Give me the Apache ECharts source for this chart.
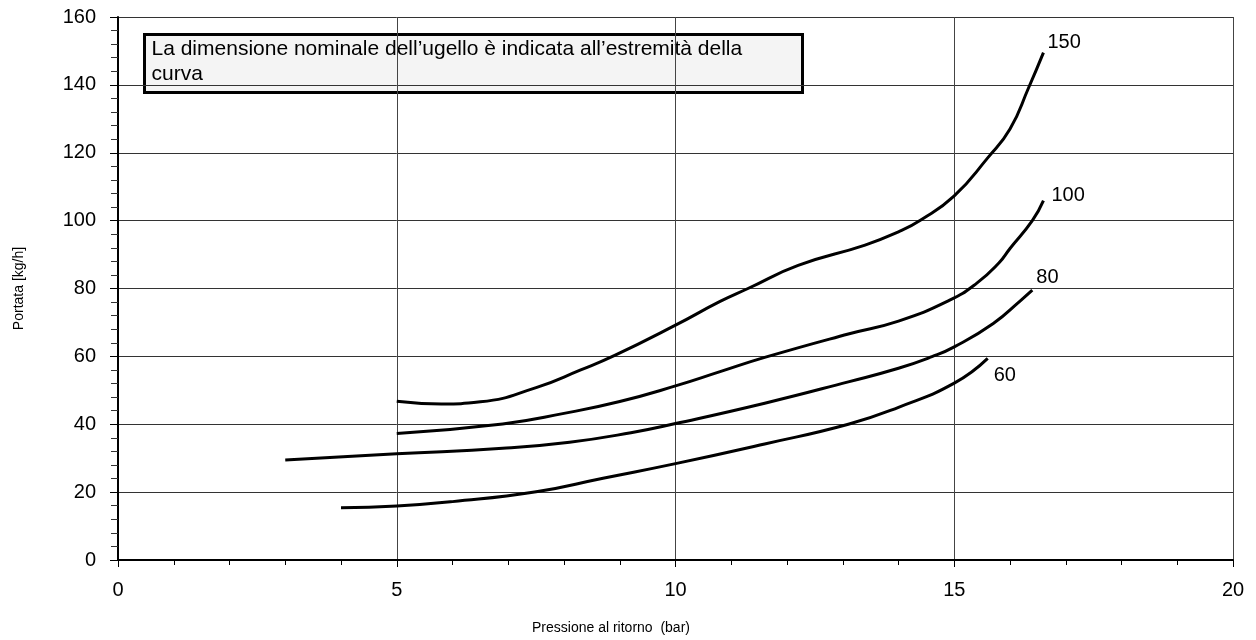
<!DOCTYPE html>
<html>
<head>
<meta charset="utf-8">
<script src="https://cdn.jsdelivr.net/npm/echarts@6/dist/echarts.min.js"></script>
<style>
html,body{margin:0;padding:0;background:#fff;}
#chart{width:1256px;height:640px;}
</style>
</head>
<body>
<div id="chart"></div>
<script>
// Data
const xTicks = [0, 5, 10, 15, 20];
const yTicks = [0, 20, 40, 60, 80, 100, 120, 140, 160];

const p150 = [5.0, 5.8, 6.5, 7.5, 8.3, 8.9, 10.0, 10.8, 11.3, 12.2, 13.4, 14.0, 14.4, 15.0, 15.6, 16.0, 16.33, 16.6];
const q150 = [46.8, 46.0, 46.6, 50.8, 56.0, 60.2, 69.2, 76.2, 80.0, 86.8, 92.8, 96.7, 100.2, 107.3, 118.5, 127.0, 139.0, 149.5];

const p100 = [5.0, 6.9, 8.0, 9.0, 10.0, 10.8, 11.6, 13.1, 14.0, 14.9, 15.4, 15.8, 16.0, 16.4, 16.6];
const q100 = [37.3, 40.1, 43.2, 46.7, 51.3, 55.5, 59.7, 66.6, 70.4, 76.4, 81.5, 87.5, 91.8, 100.0, 105.9];

const p80 = [3.0, 5.0, 6.9, 8.1, 9.2, 10.0, 11.6, 13.1, 14.0, 14.6, 15.0, 15.7, 16.2, 16.4];
const q80 = [29.5, 31.3, 32.9, 34.7, 37.5, 40.2, 46.2, 52.5, 56.5, 59.9, 62.8, 69.7, 76.6, 79.5];

const p60 = [4.0, 5.0, 6.0, 7.5, 8.7, 10.0, 11.6, 13.1, 14.0, 15.0, 15.6];
const q60 = [15.4, 15.9, 17.2, 20.1, 24.1, 28.4, 34.2, 40.0, 45.0, 52.1, 59.4];

const curveNames = ['150', '100', '80', '60'];
const noteText = 'La dimensione nominale dell\u2019ugello è indicata all\u2019estremità della\ncurva';
const xName = 'Pressione al ritorno  (bar)';
const yName = 'Portata [kg/h]';

function pairs(xs, ys) { return xs.map((x, i) => [x, ys[i]]); }

const FONT = '"Liberation Sans", Arial, Helvetica, sans-serif';
const labelOffsets = [[4, -10], [8, -5], [4, -13], [6, 17]];
const curves = [pairs(p150, q150), pairs(p100, q100), pairs(p80, q80), pairs(p60, q60)];

const chart = echarts.init(document.getElementById('chart'), null, {renderer: 'canvas'});

const option = {
  backgroundColor: '#ffffff',
  animation: false,
  grid: {left: 118, right: 23, top: 17, bottom: 80, containLabel: false},
  xAxis: {
    type: 'value',
    min: xTicks[0], max: xTicks[xTicks.length - 1], interval: 5,
    name: xName,
    nameLocation: 'middle',
    nameGap: 61,
    nameTextStyle: {fontFamily: FONT, fontSize: 14, color: '#000', padding: [0, 129, 0, 0]},
    axisLine: {show: true, onZero: false, lineStyle: {color: '#000', width: 2}},
    axisTick: {show: true, inside: false, length: 7, lineStyle: {color: '#000', width: 1}},
    minorTick: {show: true, splitNumber: 5, length: 5, lineStyle: {color: '#000', width: 1}},
    axisLabel: {fontFamily: FONT, fontSize: 20, color: '#000', margin: 20},
    splitLine: {show: true, lineStyle: {color: '#444', width: 1}}
  },
  yAxis: {
    type: 'value',
    min: yTicks[0], max: yTicks[yTicks.length - 1], interval: 20,
    name: yName,
    nameLocation: 'middle',
    nameGap: 92,
    nameRotate: 90,
    nameTextStyle: {fontFamily: FONT, fontSize: 14, color: '#000'},
    axisLine: {show: true, onZero: false, lineStyle: {color: '#000', width: 2}},
    axisTick: {show: true, inside: false, length: 8, lineStyle: {color: '#000', width: 1}},
    minorTick: {show: true, splitNumber: 5, length: 7, lineStyle: {color: '#333', width: 1}},
    axisLabel: {fontFamily: FONT, fontSize: 20, color: '#000', margin: 22},
    splitLine: {show: true, lineStyle: {color: '#333', width: 1}}
  },
  series: curves.map((d, i) => ({
    type: 'line',
    name: curveNames[i],
    data: d,
    smooth: 0.5,
    showSymbol: false,
    symbol: 'none',
    lineStyle: {color: '#000', width: 3},
    itemStyle: {color: '#000'},
    endLabel: {
      show: true,
      formatter: curveNames[i],
      fontFamily: FONT,
      fontSize: 20,
      color: '#000',
      align: 'left',
      verticalAlign: 'middle',
      distance: 0,
      offset: labelOffsets[i]
    },
    z: 3
  })),
  graphic: [{
    type: 'group',
    left: 143, top: 33,
    z: 10,
    children: [
      {type: 'rect', shape: {x: 0, y: 0, width: 658, height: 58},
       style: {fill: '#f4f4f4', stroke: '#000', lineWidth: 3}},
      {type: 'text', x: 7, y: 2,
       style: {text: noteText, fontFamily: FONT, fontSize: 21, lineHeight: 25, fill: '#000'}}
    ]
  }]
};
chart.setOption(option);
</script>
</body>
</html>
